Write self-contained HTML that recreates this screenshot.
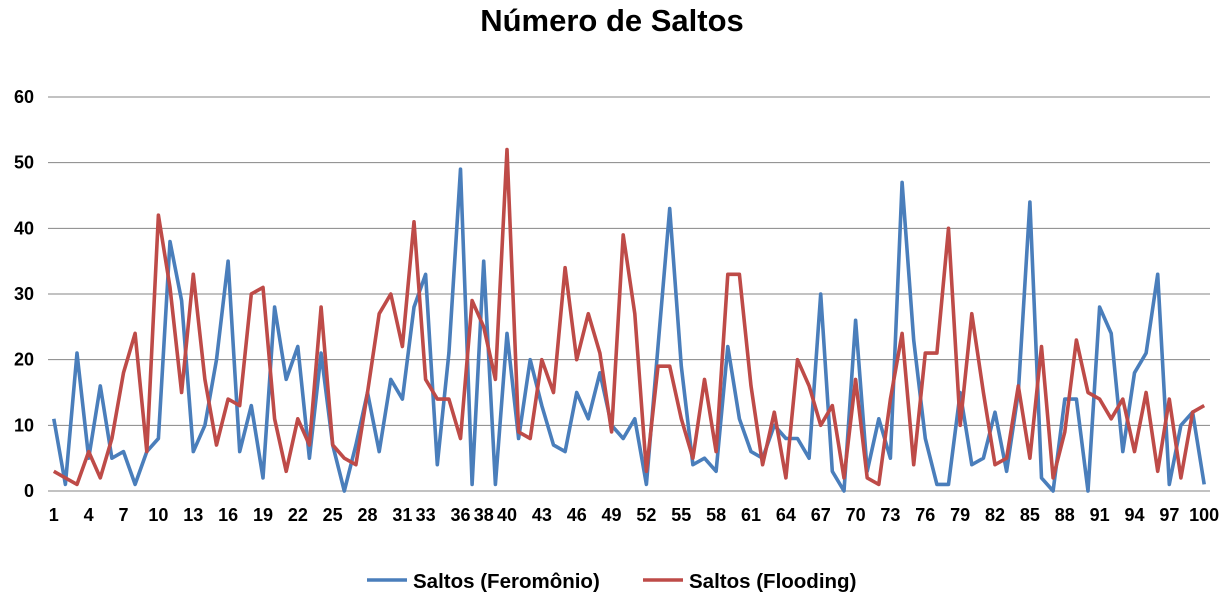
<!DOCTYPE html>
<html><head><meta charset="utf-8"><style>
body{margin:0;background:#fff;font-family:"Liberation Sans",Arial,sans-serif;}
svg text{font-family:"Liberation Sans",Arial,sans-serif;font-weight:bold;}
</style></head><body>
<svg id="chart" width="1224" height="597" xmlns="http://www.w3.org/2000/svg">
<text x="612" y="31" text-anchor="middle" font-size="31" fill="#000">Número de Saltos</text>
<g id="grid"></g><g id="ylab"></g><g id="xlab"></g><g id="series"></g>
<g>
<line x1="367" y1="580" x2="407" y2="580" stroke="#4a7ebb" stroke-width="3.5"/>
<text x="413" y="588" font-size="20.5" fill="#000">Saltos (Feromônio)</text>
<line x1="643" y1="580" x2="683" y2="580" stroke="#be4b48" stroke-width="3.5"/>
<text x="689" y="588" font-size="20.5" fill="#000">Saltos (Flooding)</text>
</g>
</svg>
<script>
const feromonio=[11,1,21,5,16,5,6,1,6,8,38,29,6,10,20,35,6,13,2,28,17,22,5,21,7,0,7,15,6,17,14,28,33,4,21,49,1,35,1,24,8,20,13,7,6,15,11,18,10,8,11,1,22,43,19,4,5,3,22,11,6,5,10,8,8,5,30,3,0,26,3,11,5,47,23,8,1,1,15,4,5,12,3,15,44,2,0,14,14,0,28,24,6,18,21,33,1,10,12,1];
const flooding=[3,2,1,6,2,8,18,24,6,42,31,15,33,17,7,14,13,30,31,11,3,11,7,28,7,5,4,15,27,30,22,41,17,14,14,8,29,25,17,52,9,8,20,15,34,20,27,21,9,39,27,3,19,19,11,5,17,6,33,33,16,4,12,2,20,16,10,13,2,17,2,1,14,24,4,21,21,40,10,27,15,4,5,16,5,22,2,9,23,15,14,11,14,6,15,3,14,2,12,13];
const yTicks=[0,10,20,30,40,50,60];
const xTickLabels=[1,4,7,10,13,16,19,22,25,28,31,33,36,38,40,43,46,49,52,55,58,61,64,67,70,73,76,79,82,85,88,91,94,97,100];
const L=48,R=1210,Y0=491,Y60=97,N=100;
const xs=i=>L+(R-L)/N*(i-1+0.5);
const ys=v=>Y0-(Y0-Y60)*v/60;
const NS="http://www.w3.org/2000/svg";
const grid=document.getElementById('grid'),ylab=document.getElementById('ylab'),xlab=document.getElementById('xlab'),ser=document.getElementById('series');
yTicks.forEach(t=>{
 const l=document.createElementNS(NS,'line');
 
 
 l.setAttribute('x1',L);l.setAttribute('x2',R);l.setAttribute('y1',ys(t));l.setAttribute('y2',ys(t));
 l.setAttribute('stroke','#868686');l.setAttribute('stroke-width','1');
 grid.appendChild(l);
 const tx=document.createElementNS(NS,'text');
 
 
 tx.setAttribute('x',34);tx.setAttribute('y',ys(t)+6);tx.setAttribute('text-anchor','end');tx.setAttribute('font-size','18');
 tx.textContent=t;ylab.appendChild(tx);
});
xTickLabels.forEach(c=>{
 const tx=document.createElementNS(NS,'text');
 
 
 tx.setAttribute('x',xs(c));tx.setAttribute('y',521);tx.setAttribute('text-anchor','middle');tx.setAttribute('font-size','18');
 tx.textContent=c;xlab.appendChild(tx);
});
function line(data,color,name){
 const p=document.createElementNS(NS,'polyline');
 
 
 p.setAttribute('points',data.map((v,i)=>xs(i+1).toFixed(1)+','+ys(v).toFixed(1)).join(' '));
 p.setAttribute('fill','none');p.setAttribute('stroke',color);p.setAttribute('stroke-width','3.6');p.setAttribute('stroke-linejoin','round');
 ser.appendChild(p);
}
line(feromonio,'#4a7ebb','series-feromonio');
line(flooding,'#be4b48','series-flooding');
</script>
</body></html>
